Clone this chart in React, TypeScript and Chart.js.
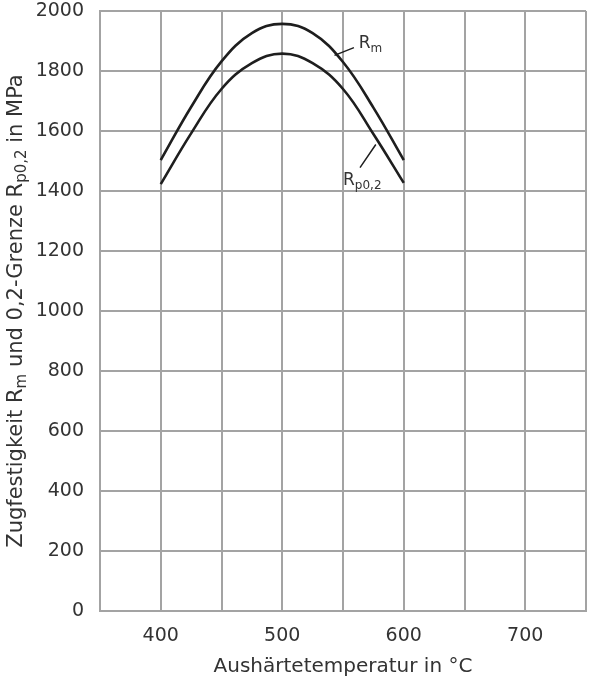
import React, { useEffect, useRef } from "react";
import { Chart, registerables } from "chart.js";

Chart.register(...registerables);

const temps = [400, 425, 450, 475, 500, 525, 550, 575, 600];
const rmValues = [1503, 1680, 1832, 1926, 1957, 1926, 1830, 1678, 1503];
const rpValues = [1423, 1592, 1740, 1826, 1858, 1826, 1740, 1590, 1427];
const xLabeled = [400, 500, 600, 700];
const xMin = 350;
const xMax = 750;
const yMin = 0;
const yMax = 2000;

const GRID = "#a3a3a3";
const TEXT = "#333333";
const LINE = "#1e1e1e";
const FONT = "'DejaVu Sans', sans-serif";

type Seg = { t: string; sub?: boolean };

function segWidth(ctx: CanvasRenderingContext2D, segs: Seg[], size: number, subSize: number) {
  let total = 0;
  for (const s of segs) {
    ctx.font = `${s.sub ? subSize : size}px ${FONT}`;
    total += ctx.measureText(s.t).width;
  }
  return total;
}

function drawSegsLeft(ctx: CanvasRenderingContext2D, segs: Seg[], size: number, subSize: number, subDrop: number, leftX: number, baseY: number) {
  let x = leftX;
  ctx.textAlign = "left";
  ctx.textBaseline = "alphabetic";
  for (const s of segs) {
    ctx.font = `${s.sub ? subSize : size}px ${FONT}`;
    ctx.fillText(s.t, x, baseY + (s.sub ? subDrop : 0));
    x += ctx.measureText(s.t).width;
  }
}

function drawSegs(ctx: CanvasRenderingContext2D, segs: Seg[], size: number, subSize: number, subDrop: number, centerX: number, baseY: number) {
  const total = segWidth(ctx, segs, size, subSize);
  drawSegsLeft(ctx, segs, size, subSize, subDrop, centerX - total / 2, baseY);
}

const labelsPlugin = {
  id: "labelsPlugin",
  afterDraw(chart: any) {
    const ctx: CanvasRenderingContext2D = chart.ctx;
    const xs = chart.scales.x;
    const ys = chart.scales.y;
    const area = chart.chartArea;
    ctx.save();
    ctx.fillStyle = TEXT;
    // x title
    drawSegs(ctx, [{ t: "Aushärtetemperatur in °C" }], 20, 15, 4, (area.left + area.right) / 2, area.bottom + 61);
    // y title rotated
    ctx.save();
    ctx.translate(22, (area.top + area.bottom) / 2);
    ctx.rotate(-Math.PI / 2);
    drawSegs(
      ctx,
      [
        { t: "Zugfestigkeit R" },
        { t: "m", sub: true },
        { t: " und 0,2-Grenze R" },
        { t: "p0,2", sub: true },
        { t: " in MPa" },
      ],
      21,
      15,
      4,
      0,
      0
    );
    ctx.restore();

    // curve labels with leader lines
    ctx.strokeStyle = LINE;
    ctx.lineWidth = 1.5;
    ctx.beginPath();
    ctx.moveTo(xs.getPixelForValue(543), ys.getPixelForValue(1852));
    ctx.lineTo(xs.getPixelForValue(559), ys.getPixelForValue(1878));
    ctx.moveTo(xs.getPixelForValue(577), ys.getPixelForValue(1555));
    ctx.lineTo(xs.getPixelForValue(564), ys.getPixelForValue(1478));
    ctx.stroke();
    ctx.fillStyle = TEXT;
    drawSegsLeft(ctx, [{ t: "R" }, { t: "m", sub: true }], 17, 12, 4, xs.getPixelForValue(563), ys.getPixelForValue(1877));
    drawSegsLeft(ctx, [{ t: "R" }, { t: "p0,2", sub: true }], 17, 12, 4, xs.getPixelForValue(550), ys.getPixelForValue(1420));
    ctx.restore();
  },
};

export default function App() {
  const ref = useRef<HTMLCanvasElement | null>(null);
  useEffect(() => {
    if (!ref.current) return;
    const chart = new Chart(ref.current, {
      type: "line",
      data: {
        datasets: [
          {
            label: "Rm",
            data: temps.map((t, i) => ({ x: t, y: rmValues[i] })),
            borderColor: LINE,
            borderWidth: 2.6,
            pointRadius: 0,
            tension: 0.4,
            fill: false,
          },
          {
            label: "Rp0,2",
            data: temps.map((t, i) => ({ x: t, y: rpValues[i] })),
            borderColor: LINE,
            borderWidth: 2.6,
            pointRadius: 0,
            tension: 0.4,
            fill: false,
          },
        ],
      },
      options: {
        responsive: false,
        animation: false,
        layout: { padding: { top: 11, right: 19, left: 0, bottom: 0 } },
        plugins: { legend: { display: false }, tooltip: { enabled: false }, title: { display: false } },
        scales: {
          x: {
            type: "linear",
            min: xMin,
            max: xMax,
            grid: { color: GRID, lineWidth: 2, drawTicks: false },
            border: { display: true, color: GRID, width: 2 },
            ticks: {
              stepSize: 50,
              padding: 14,
              color: TEXT,
              font: { family: FONT, size: 19 },
              autoSkip: false,
              maxRotation: 0,
              callback: (v: any) => (xLabeled.includes(Number(v)) ? String(v) : ""),
            },
            afterFit: (s: any) => {
              s.height = 78;
              s.paddingLeft = 0;
              s.paddingRight = 0;
            },
          },
          y: {
            type: "linear",
            min: yMin,
            max: yMax,
            grid: { color: GRID, lineWidth: 2, drawTicks: false },
            border: { display: true, color: GRID, width: 2 },
            ticks: {
              stepSize: 200,
              padding: 16,
              color: TEXT,
              font: { family: FONT, size: 19 },
              callback: (v: any) => String(v),
            },
            afterFit: (s: any) => {
              s.width = 100;
              s.paddingTop = 0;
              s.paddingBottom = 0;
            },
          },
        },
      },
      plugins: [labelsPlugin],
    } as any);
    return () => chart.destroy();
  }, []);
  return (
    <div style={{ position: "absolute", left: 0, top: 0, width: 605, height: 689, background: "#fff" }}>
      <canvas ref={ref} width={605} height={689} style={{ display: "block" }} />
    </div>
  );
}
